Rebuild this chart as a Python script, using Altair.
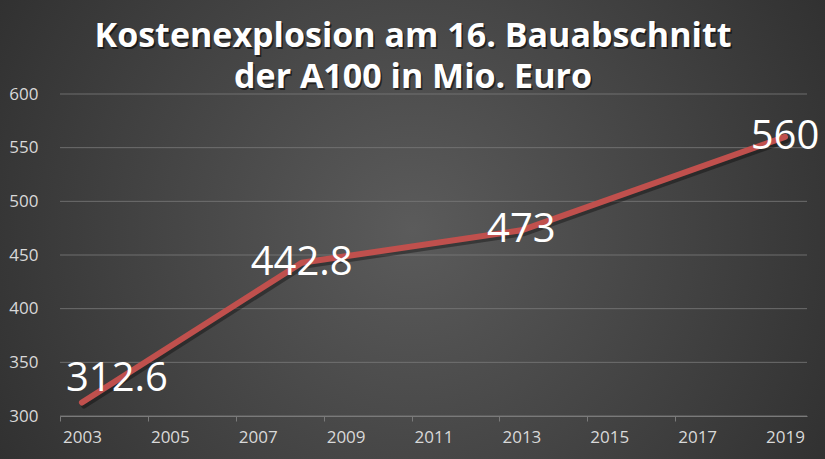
import altair as alt
import pandas as pd

# ---- data ----
years = [2003, 2008, 2013, 2019]
costs = [312.6, 442.8, 473, 560]
cost_labels = ["312.6", "442.8", "473", "560"]
x_label_years = [2003, 2005, 2007, 2009, 2011, 2013, 2015, 2017, 2019]
y_ticks = [300, 350, 400, 450, 500, 550, 600]
title_lines = ["Kostenexplosion am 16. Bauabschnitt", "der A100 in Mio. Euro"]

# ---- layout ----
W, H = 747, 322
PL, PT, PR, PB = 60, 94, 18, 43
FONT = "Open Sans"
LINE_RED = "#c0504d"
GRID = "#7a7a7a"
LABEL_GRAY = "#d9d9d9"

df = pd.DataFrame({"year": years, "cost": costs, "label": cost_labels})
grid_df = pd.DataFrame({"v": y_ticks})
one = pd.DataFrame({"k": [0]})

# axis tick marks sit on category boundaries (every two years), labels on the years
tick_bounds = [y - 0.5 for y in x_label_years[:-1]]
x_values = sorted(x_label_years + tick_bounds)

xscale = alt.Scale(domain=[2002.5, 2019.5], nice=False, zero=False)
yscale = alt.Scale(domain=[300, 600], nice=False, zero=False)

x_axis = alt.Axis(
    values=x_values, title=None, grid=False,
    labelExpr="datum.value % 1 == 0 ? datum.label : ''",
    format="d",
    tickOpacity={"condition": {"test": "datum.value % 1 != 0", "value": 1}, "value": 0},
    tickSize=5, tickColor=GRID, domainColor=GRID, domainWidth=1,
    labelFont=FONT, labelFontSize=17, labelColor=LABEL_GRAY,
    labelPadding=8, labelFlush=False, labelOverlap=False, zindex=1,
)
y_axis = alt.Axis(
    values=y_ticks, title=None, grid=False, domain=False, ticks=False,
    labelFont=FONT, labelFontSize=17, labelColor=LABEL_GRAY,
    labelPadding=22, zindex=1,
)

bg = alt.Chart(one).mark_rect(
    fill={
        "gradient": "radial",
        "x1": 0.5, "y1": 0.5, "r1": 0,
        "x2": 0.5, "y2": 0.5, "r2": 0.75,
        "stops": [
            {"offset": 0, "color": "#5b5b5b"},
            {"offset": 1, "color": "#242424"},
        ],
    },
    strokeWidth=0,
).encode(
    x=alt.value(-PL), x2=alt.value(W + PR),
    y=alt.value(-PT), y2=alt.value(H + PB),
)

grid = alt.Chart(grid_df).mark_rule(color=GRID, strokeWidth=1, opacity=0.8).encode(
    y=alt.Y("v:Q", scale=yscale, axis=y_axis),
    x=alt.value(0), x2=alt.value(W),
)

shadow = alt.Chart(df).mark_line(
    color="#000000", opacity=0.35, strokeWidth=6,
    strokeCap="round", strokeJoin="round", xOffset=2, yOffset=3,
).encode(
    x=alt.X("year:Q", scale=xscale, axis=x_axis),
    y=alt.Y("cost:Q", scale=yscale, axis=y_axis),
)

line = alt.Chart(df).mark_line(
    color=LINE_RED, strokeWidth=6, strokeCap="round", strokeJoin="round",
).encode(
    x=alt.X("year:Q", scale=xscale, axis=x_axis),
    y=alt.Y("cost:Q", scale=yscale, axis=y_axis),
)

label_offsets = {2003: (35, -23)}
label_layers = []
for yr in years:
    dx, dy = label_offsets.get(yr, (0, 0))
    label_layers.append(
        alt.Chart(df).transform_filter(alt.datum.year == yr).mark_text(
            font=FONT, fontSize=40, color="#ffffff", align="center",
            baseline="middle", dx=dx, dy=dy,
        ).encode(
            x=alt.X("year:Q", scale=xscale, axis=x_axis),
            y=alt.Y("cost:Q", scale=yscale, axis=y_axis),
            text="label:N",
        )
    )

title_shadow = alt.Chart(one).mark_text(
    text=title_lines, font=FONT, fontSize=34, fontWeight="bold", color="#000000",
    opacity=0.55, align="center", baseline="alphabetic", lineHeight=41, dx=1.5, dy=2,
).encode(x=alt.value(413 - PL), y=alt.value(47 - PT))

title = alt.Chart(one).mark_text(
    text=title_lines, font=FONT, fontSize=34, fontWeight="bold", color="#ffffff",
    align="center", baseline="alphabetic", lineHeight=41,
).encode(x=alt.value(413 - PL), y=alt.value(47 - PT))

chart = alt.layer(
    bg, grid, shadow, line, *label_layers, title_shadow, title
).properties(
    width=W, height=H,
    autosize=alt.AutoSizeParams(type="none"),
    padding={"left": PL, "top": PT, "right": PR, "bottom": PB},
    background="#262626",
).configure_view(stroke=None)

chart.save("out.html", embed_options={"renderer": "svg", "actions": False})
